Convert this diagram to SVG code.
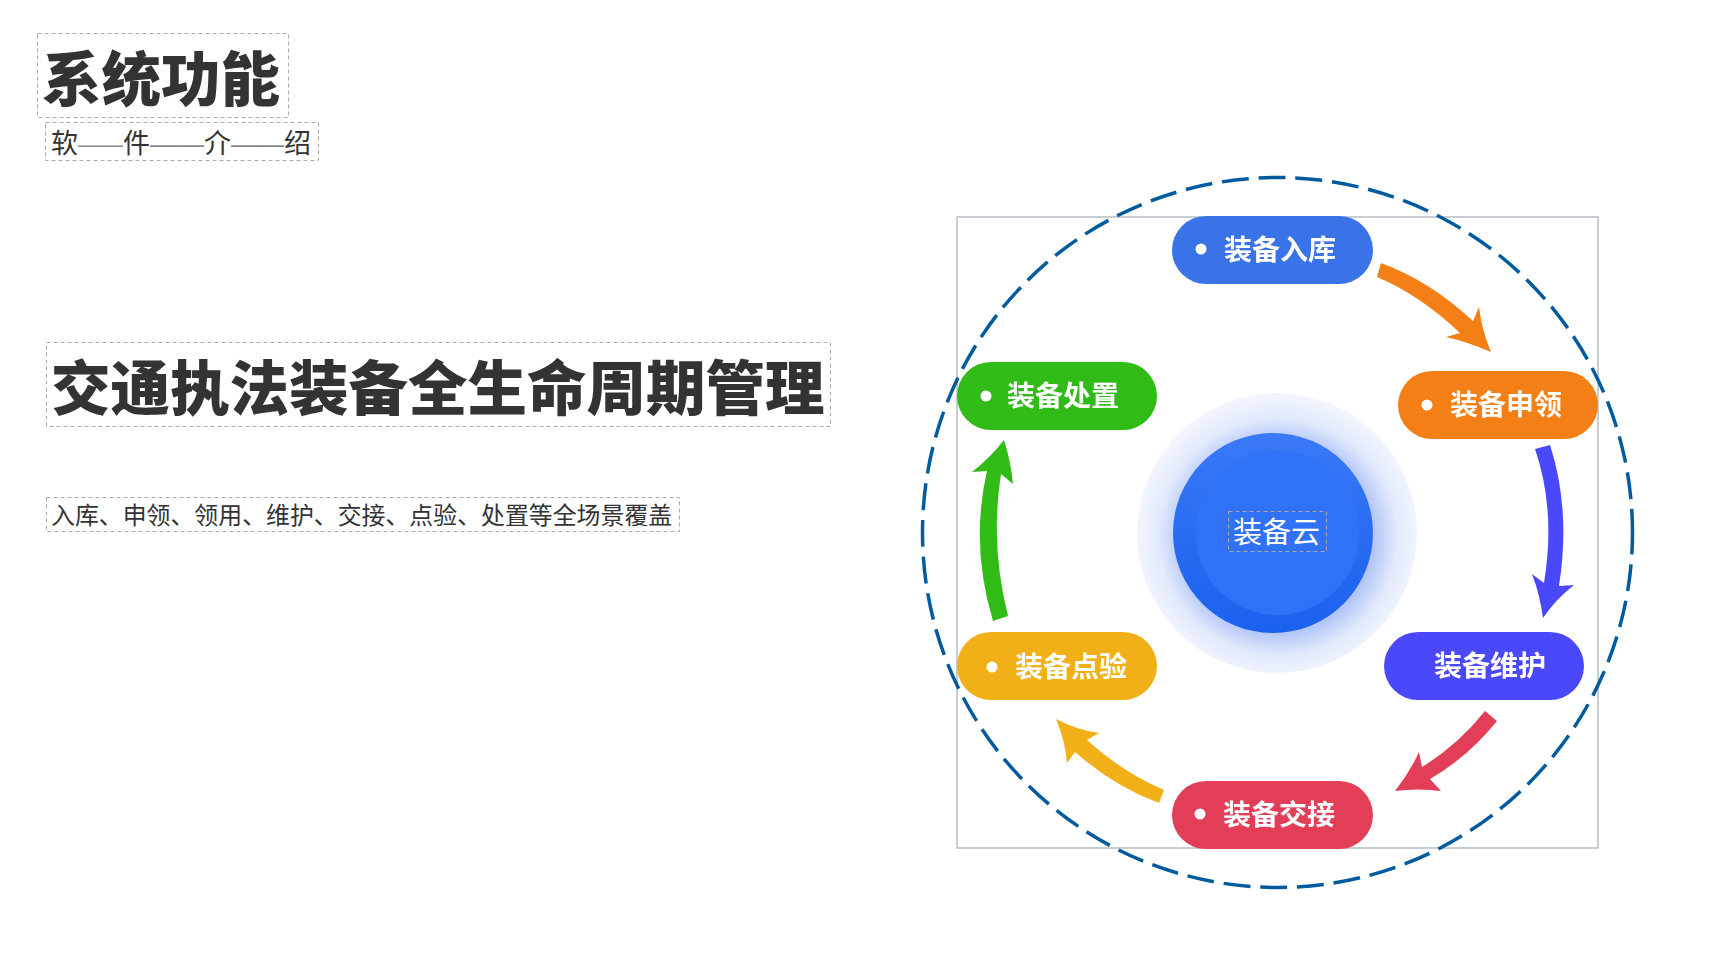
<svg xmlns="http://www.w3.org/2000/svg" width="1734" height="967" viewBox="0 0 1734 967">
<style>
text{font-family:"Noto Sans CJK SC","Noto Sans",sans-serif}
.db{fill:none;stroke:#a9a9b5;stroke-width:1;stroke-dasharray:4 3}
.h{font-weight:900;fill:#333}
.p{font-weight:700;font-size:28px;fill:#fff;filter:url(#soft)}
.d{fill:#fff}
.dash{font-family:"Liberation Sans",sans-serif;fill:#8a8a8a}
</style>
<defs>
<filter id="soft" x="-5%" y="-20%" width="110%" height="140%"><feGaussianBlur stdDeviation="0.35"/></filter>
<radialGradient id="halo" gradientUnits="userSpaceOnUse" cx="1278" cy="537" r="142">
<stop offset="0" stop-color="#9db5f3"/><stop offset="0.68" stop-color="#b3c6f6"/><stop offset="0.84" stop-color="#e2eafc"/><stop offset="1" stop-color="#f2f5fe"/>
</radialGradient>
<linearGradient id="ball" x1="0" y1="0" x2="0" y2="1"><stop offset="0" stop-color="#3a78f7"/><stop offset="1" stop-color="#1a61ee"/></linearGradient>
</defs>
<rect width="1734" height="967" fill="#fff"/>
<g id="title"><rect class="db" x="37.500" y="33.500" width="251" height="84"/><text class="h" x="42" y="101" font-size="59.500">系统功能</text></g>
<g id="subtitle"><rect class="db" x="45.500" y="122.500" width="273" height="38"/><text y="153" font-size="27" fill="#333"><tspan x="51">软</tspan><tspan class="dash" x="78" y="152" font-size="22.500">—</tspan><tspan class="dash" x="100.500" y="152" font-size="22.500">—</tspan><tspan x="123" y="153">件</tspan><tspan class="dash" x="150">—</tspan><tspan class="dash" x="177">—</tspan><tspan x="204">介</tspan><tspan class="dash" x="231">—</tspan><tspan class="dash" x="257">—</tspan><tspan x="284">绍</tspan></text></g>
<g id="heading"><rect class="db" x="46.500" y="342.500" width="784" height="84"/><text class="h" x="51" y="410" font-size="59.500">交通执法装备全生命周期管理</text></g>
<g id="summary"><rect class="db" x="46.500" y="497.500" width="633" height="34"/><text x="51" y="524" font-size="23.900" fill="#333">入库、申领、领用、维护、交接、点验、处置等全场景覆盖</text></g>
<rect id="frame" x="957" y="217" width="641" height="631" fill="none" stroke="#b6bcc5" stroke-width="1.500"/>
<circle id="ring" cx="1277.500" cy="532.500" r="355" fill="none" stroke="#005b9e" stroke-width="3.500" stroke-dasharray="27 9.850" stroke-dashoffset="5"/>
<g id="hub">
<circle cx="1277" cy="533" r="140" fill="url(#halo)"/>
<circle cx="1273" cy="533" r="100" fill="url(#ball)"/>
<circle cx="1277.500" cy="533" r="82" fill="#2f72f8"/>
<rect class="db" x="1228.500" y="511.500" width="98" height="40" style="stroke:#a8a89a"/>
<text x="1233" y="543" font-size="29" fill="#fff">装备云</text>
</g>
<g id="connectors">
<path fill="#f47f17" d="M1381,263Q1430,281 1473,321L1479,307Q1482,331 1491,352Q1468,342 1446,337L1460,333Q1420,295 1377,277Z"/>
<path fill="#4a48fb" d="M1535,449L1550,445Q1571,510 1559,586L1574,585Q1555,600 1543,618Q1540,595 1532,574L1544,583Q1556,510 1535,449Z"/>
<path fill="#e23e57" d="M1485,711L1497,721Q1468,757 1430,779L1441,791Q1418,788 1395,791Q1410,772 1419,752L1422,767Q1458,745 1485,711Z"/>
<path fill="#f2b018" d="M1164,790L1159,803Q1115,787 1075,752L1067,763Q1065,740 1056,719Q1077,730 1099,733L1087,740Q1122,772 1164,790Z"/>
<path fill="#31bb17" d="M993,621L1008,616Q990,545 1001,474L1013,484Q1011,462 1004,440Q990,458 972,472L987,471Q970,545 993,621Z"/>
</g>
<g id="n1"><rect x="1172" y="216" width="201" height="68" rx="34" fill="#3a72e8"/><circle class="d" cx="1201" cy="249" r="5.500"/><text class="p" x="1224" y="260">装备入库</text></g>
<g id="n2"><rect x="1398" y="371" width="200" height="68" rx="34" fill="#f47f17"/><circle class="d" cx="1427" cy="405" r="5.500"/><text class="p" x="1450" y="415">装备申领</text></g>
<g id="n3"><rect x="1384" y="632" width="200" height="68" rx="34" fill="#4a48fb"/><text class="p" x="1434" y="676">装备维护</text></g>
<g id="n4"><rect x="1172" y="781" width="201" height="68" rx="34" fill="#e23e57"/><circle class="d" cx="1200" cy="814" r="5.500"/><text class="p" x="1223" y="825">装备交接</text></g>
<g id="n5"><rect x="957" y="632" width="200" height="68" rx="34" fill="#f2b018"/><circle class="d" cx="992" cy="667" r="5.500"/><text class="p" x="1015" y="677">装备点验</text></g>
<g id="n6"><rect x="957" y="362" width="200" height="68" rx="34" fill="#31bb17"/><circle class="d" cx="986" cy="396" r="5.500"/><text class="p" x="1007" y="406">装备处置</text></g>
</svg>
